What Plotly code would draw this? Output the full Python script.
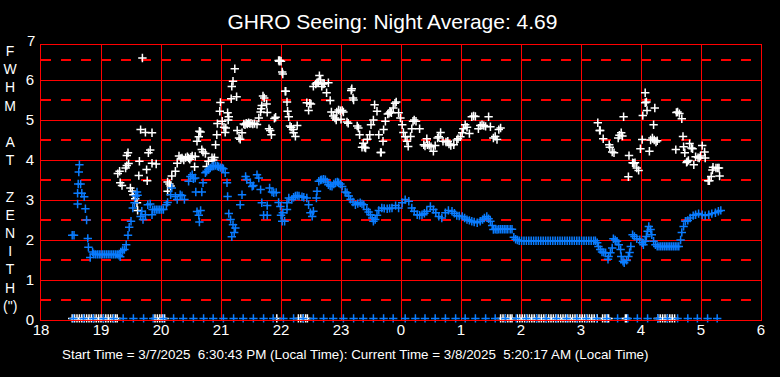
import plotly.graph_objects as go

# ---------------- data (hours after midnight of start day; 24+ = next morning) ----------------
blue_hours = [
    18.52, 18.55, 18.61, 18.61, 18.62, 18.63, 18.64, 18.66, 18.68, 18.72, 18.74, 18.76, 18.78, 18.79,
    18.82, 18.86, 18.88, 18.91, 18.94, 18.97, 19.00, 19.03, 19.06, 19.09, 19.12, 19.15, 19.18, 19.21,
    19.24, 19.27, 19.30, 19.32, 19.33, 19.36, 19.39, 19.42, 19.45, 19.47, 19.50, 19.53, 19.56, 19.58,
    19.60, 19.61, 19.66, 19.68, 19.70, 19.74, 19.78, 19.82, 19.85, 19.86, 19.89, 19.92, 19.95, 19.98,
    20.01, 20.04, 20.09, 20.11, 20.16, 20.18, 20.24, 20.27, 20.32, 20.35, 20.39, 20.46, 20.49, 20.52,
    20.54, 20.57, 20.58, 20.60, 20.63, 20.64, 20.66, 20.68, 20.70, 20.74, 20.76, 20.79, 20.82, 20.85,
    20.88, 20.91, 20.94, 20.96, 20.99, 21.02, 21.04, 21.07, 21.10, 21.11, 21.13, 21.16, 21.18, 21.20,
    21.22, 21.24, 21.32, 21.35, 21.41, 21.43, 21.49, 21.52, 21.54, 21.60, 21.63, 21.66, 21.68, 21.71,
    21.77, 21.77, 21.81, 21.85, 21.88, 21.92, 21.96, 21.99, 22.00, 22.02, 22.03, 22.06, 22.10, 22.10,
    22.13, 22.18, 22.21, 22.24, 22.27, 22.30, 22.35, 22.38, 22.43, 22.46, 22.49, 22.52, 22.54, 22.59,
    22.60, 22.63, 22.66, 22.68, 22.71, 22.74, 22.77, 22.79, 22.82, 22.85, 22.88, 22.91, 22.94, 22.96,
    22.99, 23.02, 23.07, 23.10, 23.13, 23.16, 23.20, 23.24, 23.28, 23.32, 23.35, 23.38, 23.43, 23.46,
    23.49, 23.52, 23.54, 23.57, 23.60, 23.63, 23.68, 23.72, 23.77, 23.81, 23.85, 23.91, 23.96, 24.02,
    24.07, 24.13, 24.18, 24.22, 24.27, 24.31, 24.35, 24.39, 24.43, 24.49, 24.54, 24.58, 24.63, 24.68,
    24.74, 24.79, 24.85, 24.89, 24.93, 24.97, 25.02, 25.06, 25.10, 25.14, 25.18, 25.22, 25.27, 25.32,
    25.36, 25.39, 25.43, 25.46, 25.49, 25.52, 25.54, 25.57, 25.60, 25.63, 25.66, 25.69, 25.72, 25.75,
    25.78, 25.82, 25.85, 25.88, 25.91, 25.94, 25.97, 26.01, 26.05, 26.09, 26.13, 26.17, 26.21, 26.25,
    26.29, 26.33, 26.37, 26.41, 26.45, 26.49, 26.53, 26.57, 26.61, 26.65, 26.69, 26.73, 26.77, 26.81,
    26.85, 26.89, 26.93, 26.97, 27.01, 27.05, 27.09, 27.13, 27.17, 27.21, 27.24, 27.27, 27.29, 27.32,
    27.35, 27.38, 27.41, 27.45, 27.46, 27.49, 27.52, 27.54, 27.57, 27.60, 27.63, 27.66, 27.67, 27.70,
    27.72, 27.76, 27.79, 27.81, 27.83, 27.86, 27.89, 27.93, 27.98, 28.02, 28.04, 28.07, 28.09, 28.11,
    28.13, 28.16, 28.18, 28.21, 28.24, 28.27, 28.30, 28.33, 28.36, 28.39, 28.42, 28.45, 28.48, 28.51,
    28.54, 28.57, 28.60, 28.63, 28.66, 28.68, 28.71, 28.74, 28.78, 28.82, 28.87, 28.91, 28.96, 29.02,
    29.07, 29.13, 29.18, 29.24, 29.29, 29.33,
]
blue_fwhm = [
    2.12, 2.12, 2.90, 3.17, 3.40, 3.70, 3.88, 3.40, 3.17, 3.08, 2.78, 2.50, 2.04, 1.82,
    1.56, 1.70, 1.65, 1.64, 1.64, 1.64, 1.64, 1.64, 1.64, 1.64, 1.64, 1.64, 1.64, 1.64,
    1.64, 1.64, 1.62, 1.58, 1.70, 1.74, 1.76, 1.88, 2.12, 2.32, 2.47, 2.80, 2.93, 3.10,
    3.20, 3.12, 2.59, 2.72, 2.51, 2.63, 2.88, 2.90, 2.63, 2.76, 2.76, 2.76, 2.76, 2.76,
    2.76, 2.76, 2.88, 2.94, 3.13, 3.30, 3.09, 3.01, 3.13, 3.11, 3.01, 3.47, 3.59, 3.63,
    3.53, 3.55, 3.20, 2.71, 2.62, 2.45, 2.74, 3.20, 3.43, 3.68, 3.72, 3.76, 3.80, 3.84,
    3.85, 3.86, 3.85, 3.83, 3.81, 3.80, 3.78, 3.68, 3.43, 3.09, 2.66, 2.51, 2.08, 2.38,
    2.19, 2.30, 2.88, 3.13, 3.59, 3.51, 3.43, 3.34, 3.36, 3.63, 3.55, 3.26, 2.93, 2.62,
    2.86, 2.62, 3.30, 3.20, 3.18, 3.19, 2.94, 2.84, 2.62, 2.47, 2.68, 2.47, 2.76, 2.93,
    3.05, 3.01, 3.07, 3.10, 3.11, 3.10, 3.08, 3.07, 3.05, 2.88, 2.68, 2.59, 2.72, 3.05,
    3.22, 3.47, 3.50, 3.51, 3.52, 3.51, 3.45, 3.38, 3.35, 3.34, 3.40, 3.44, 3.45, 3.43,
    3.40, 3.34, 3.20, 3.18, 3.10, 3.02, 2.95, 2.88, 2.91, 2.93, 2.90, 2.88, 2.76, 2.70,
    2.63, 2.55, 2.47, 2.51, 2.62, 2.74, 2.80, 2.79, 2.78, 2.79, 2.80, 2.86, 2.80, 2.93,
    3.01, 2.97, 2.80, 2.72, 2.63, 2.62, 2.63, 2.67, 2.72, 2.84, 2.76, 2.68, 2.59, 2.55,
    2.68, 2.74, 2.72, 2.67, 2.61, 2.60, 2.59, 2.55, 2.51, 2.49, 2.47, 2.45, 2.43, 2.47,
    2.51, 2.55, 2.59, 2.53, 2.47, 2.36, 2.26, 2.27, 2.26, 2.27, 2.27, 2.27, 2.27, 2.27,
    2.27, 2.27, 2.27, 2.07, 2.02, 2.00, 1.98, 1.98, 1.98, 1.98, 1.98, 1.98, 1.98, 1.98,
    1.98, 1.98, 1.98, 1.98, 1.98, 1.98, 1.98, 1.98, 1.98, 1.98, 1.98, 1.98, 1.98, 1.98,
    1.98, 1.98, 1.98, 1.98, 1.98, 1.98, 1.98, 1.98, 1.98, 1.98, 1.98, 1.93, 1.84, 1.76,
    1.70, 1.69, 1.68, 1.52, 1.59, 1.68, 1.80, 2.03, 2.00, 1.97, 1.88, 1.76, 1.59, 1.47,
    1.43, 1.49, 1.59, 1.69, 1.84, 2.13, 2.09, 2.03, 2.01, 1.93, 1.88, 1.97, 2.09, 2.22,
    2.34, 2.26, 2.13, 1.97, 1.88, 1.84, 1.84, 1.84, 1.84, 1.84, 1.84, 1.84, 1.84, 1.84,
    1.84, 1.84, 1.84, 1.84, 2.00, 2.19, 2.34, 2.47, 2.49, 2.55, 2.61, 2.63, 2.66, 2.63,
    2.61, 2.63, 2.66, 2.68, 2.72, 2.74,
]

white_hours = [
    19.28, 19.31, 19.32, 19.35, 19.41, 19.43, 19.43, 19.45, 19.46, 19.49, 19.52, 19.54, 19.57, 19.60,
    19.61, 19.63, 19.64, 19.66, 19.69, 19.74, 19.76, 19.77, 19.79, 19.82, 19.85, 19.85, 19.92, 20.11,
    20.11, 20.14, 20.16, 20.18, 20.24, 20.27, 20.30, 20.33, 20.35, 20.38, 20.41, 20.44, 20.46, 20.48,
    20.50, 20.52, 20.56, 20.57, 20.60, 20.63, 20.64, 20.66, 20.68, 20.70, 20.74, 20.76, 20.79, 20.85,
    20.87, 20.89, 20.91, 20.93, 20.94, 20.98, 20.99, 21.02, 21.05, 21.07, 21.08, 21.11, 21.12, 21.13,
    21.17, 21.18, 21.20, 21.23, 21.26, 21.27, 21.30, 21.32, 21.35, 21.38, 21.40, 21.42, 21.44, 21.46,
    21.48, 21.50, 21.53, 21.56, 21.60, 21.63, 21.66, 21.67, 21.68, 21.70, 21.72, 21.76, 21.77, 21.80,
    21.82, 21.84, 21.89, 21.91, 21.96, 21.97, 21.98, 22.00, 22.02, 22.03, 22.07, 22.08, 22.10, 22.11,
    22.13, 22.15, 22.17, 22.20, 22.21, 22.24, 22.27, 22.43, 22.46, 22.48, 22.50, 22.54, 22.58, 22.60,
    22.62, 22.64, 22.66, 22.68, 22.70, 22.72, 22.76, 22.79, 22.82, 22.84, 22.87, 22.90, 22.92, 22.93,
    22.96, 22.99, 23.00, 23.02, 23.04, 23.10, 23.12, 23.17, 23.18, 23.20, 23.21, 23.27, 23.29, 23.31,
    23.35, 23.37, 23.39, 23.41, 23.44, 23.48, 23.50, 23.54, 23.56, 23.60, 23.63, 23.66, 23.67, 23.70,
    23.71, 23.74, 23.78, 23.80, 23.82, 23.84, 23.87, 23.90, 23.92, 23.96, 23.99, 24.02, 24.04, 24.07,
    24.10, 24.12, 24.16, 24.18, 24.20, 24.22, 24.25, 24.31, 24.38, 24.40, 24.43, 24.44, 24.47, 24.50,
    24.54, 24.57, 24.61, 24.63, 24.66, 24.70, 24.75, 24.78, 24.80, 24.83, 24.88, 24.93, 24.95, 24.99,
    25.02, 25.04, 25.07, 25.10, 25.14, 25.18, 25.21, 25.24, 25.29, 25.32, 25.35, 25.38, 25.41, 25.46,
    25.49, 25.54, 25.57, 25.60, 25.63, 25.66, 25.87, 25.89, 27.28, 27.31, 27.32, 27.37, 27.47, 27.48,
    27.52, 27.55, 27.62, 27.64, 27.67, 27.69, 27.71, 27.79, 27.80, 27.86, 27.88, 27.90, 27.93, 27.96,
    27.99, 28.02, 28.03, 28.07, 28.07, 28.09, 28.10, 28.14, 28.16, 28.19, 28.21, 28.22, 28.23, 28.25,
    28.27, 28.58, 28.59, 28.61, 28.64, 28.68, 28.70, 28.71, 28.73, 28.76, 28.77, 28.79, 28.81, 28.84,
    28.86, 28.88, 28.91, 28.95, 28.97, 28.99, 29.02, 29.06, 29.07, 29.12, 29.14, 29.17, 29.19, 29.20,
    29.25, 29.28, 29.30, 29.31,
]
white_fwhm = [
    3.66, 3.72, 3.43, 3.36, 3.80, 3.86, 4.11, 4.18, 3.91, 3.30, 3.22, 3.13, 3.03, 2.93,
    2.74, 3.61, 3.97, 4.76, 6.55, 4.69, 3.76, 3.48, 4.18, 4.25, 4.68, 3.92, 3.90, 3.45,
    3.22, 3.40, 3.35, 3.60, 3.72, 3.92, 4.10, 4.04, 4.05, 4.00, 4.06, 4.08, 4.05, 4.02,
    4.07, 4.10, 3.83, 4.09, 4.47, 4.58, 4.72, 4.70, 4.26, 4.20, 4.16, 3.84, 3.97, 4.06,
    4.00, 4.06, 4.38, 4.63, 4.91, 5.22, 5.44, 4.97, 4.82, 4.69, 4.80, 5.18, 5.00, 5.08,
    5.53, 5.84, 5.97, 6.28, 5.58, 4.74, 4.55, 4.52, 4.68, 4.90, 4.88, 4.92, 4.90, 4.93,
    4.91, 4.92, 4.90, 4.91, 4.89, 5.05, 5.20, 5.28, 5.36, 5.60, 5.55, 5.40, 5.19, 4.78,
    4.74, 4.63, 5.04, 5.07, 6.49, 6.47, 6.49, 6.47, 6.20, 6.15, 5.72, 5.72, 5.45, 5.22,
    5.08, 4.85, 4.82, 4.76, 4.68, 4.59, 4.86, 5.43, 5.24, 5.42, 5.40, 5.84, 5.90, 5.93,
    5.95, 6.11, 6.00, 5.84, 5.90, 5.91, 5.68, 5.93, 5.49, 5.20, 5.10, 5.05, 5.00, 5.20,
    5.25, 5.23, 5.02, 5.24, 5.20, 4.95, 4.92, 5.74, 5.78, 5.55, 5.50, 4.85, 4.80, 4.63,
    4.32, 4.42, 4.32, 4.30, 4.52, 4.63, 4.88, 5.00, 5.38, 5.22, 4.63, 4.19, 4.19, 4.47,
    4.76, 4.97, 5.15, 5.17, 5.20, 5.18, 5.30, 5.42, 5.45, 5.18, 5.05, 4.88, 4.69, 4.58,
    4.47, 4.34, 4.59, 4.78, 4.97, 5.00, 4.97, 4.78, 4.38, 4.35, 4.53, 4.38, 4.37, 4.33,
    4.22, 4.36, 4.55, 4.58, 4.69, 4.47, 4.45, 4.47, 4.40, 4.36, 4.38, 4.50, 4.53, 4.58,
    4.68, 4.78, 4.88, 4.82, 4.66, 5.08, 5.10, 5.09, 4.78, 4.86, 4.88, 4.86, 4.84, 5.08,
    4.83, 4.55, 4.59, 4.51, 4.76, 4.80, 6.96, 6.95, 4.93, 4.74, 4.74, 4.53, 4.38, 4.32,
    4.20, 4.18, 4.55, 4.62, 4.68, 4.60, 5.08, 3.58, 4.11, 3.93, 3.92, 3.93, 3.80, 3.74,
    4.28, 4.51, 5.11, 5.43, 5.68, 5.45, 5.24, 4.22, 4.50, 4.55, 4.88, 4.50, 5.30, 4.45,
    4.48, 4.26, 5.19, 5.20, 5.16, 5.03, 4.59, 4.33, 4.18, 3.94, 3.96, 3.99, 4.41, 4.30,
    4.28, 3.88, 4.08, 4.06, 4.05, 4.10, 4.36, 4.20, 4.05, 3.48, 3.48, 3.59, 3.75, 3.82,
    3.80, 3.80, 3.80, 3.60,
]

# samples with no valid measurement, drawn on the zero row
white_zero_hours = [
    18.52, 18.56, 18.60, 18.64, 18.68, 18.72, 18.76, 18.80, 18.84, 18.88, 18.92, 18.96, 19.00, 19.04,
    19.08, 19.12, 19.16, 19.20, 19.24, 19.27, 19.90, 19.94, 19.98, 20.02, 20.06, 21.93, 22.29, 22.33,
    22.37, 22.41, 22.44, 25.66, 25.70, 25.74, 25.78, 25.82, 25.85, 25.94, 25.98, 26.02, 26.06, 26.10,
    26.14, 26.18, 26.22, 26.26, 26.30, 26.34, 26.38, 26.42, 26.46, 26.50, 26.54, 26.58, 26.62, 26.66,
    26.70, 26.74, 26.78, 26.82, 26.86, 26.90, 26.94, 26.98, 27.02, 27.06, 27.10, 27.14, 27.18, 27.22,
    27.27, 27.36, 27.40, 27.44, 27.46, 27.74, 27.76, 28.28, 28.32, 28.36, 28.40, 28.44, 28.48, 28.52,
    28.56,
]
blue_zero_hours = [
    18.54, 18.71, 18.87, 19.04, 19.21, 19.37, 19.54, 19.71, 19.87, 20.04, 20.21, 20.37, 20.54, 20.71,
    20.87, 21.04, 21.21, 21.37, 21.54, 21.71, 21.87, 22.04, 22.21, 22.37, 22.54, 22.71, 22.87, 23.04,
    23.21, 23.37, 23.54, 23.71, 23.87, 24.07, 24.24, 24.40, 24.57, 24.74, 24.91, 25.07, 25.24, 25.41,
    25.57, 25.74, 25.92, 26.09, 26.26, 26.42, 26.59, 26.76, 26.93, 27.09, 27.26, 27.43, 27.61, 27.78,
    27.94, 28.11, 28.28, 28.44, 28.61, 28.78, 28.94, 29.11, 29.27,
]
zero_row_level = 0.04

x_tick_vals = list(range(18, 31))
x_tick_text = ["18", "19", "20", "21", "22", "23", "0", "1", "2", "3", "4", "5", "6"]
y_tick_vals = [0, 1, 2, 3, 4, 5, 6]
y_top_label = 7
y_range = [0, 6.875]
y_half_lines = [0.5, 1.5, 2.5, 3.5, 4.5, 5.5, 6.5]

title_text = "GHRO Seeing: Night Average: 4.69"
footer_text = ("Start Time = 3/7/2025&nbsp; 6:30:43 PM (Local Time): Current Time = "
               "3/8/2025&nbsp; 5:20:17 AM (Local Time)")
y_title_letters = ["F", "W", "H", "M", "", "A", "T", "", "Z", "E", "N", "I", "T", "H", "(\")"]

# ---------------- figure ----------------
FIG_W, FIG_H = 780, 377
FONT = "Liberation Sans, Arial, sans-serif"
WHITE = "#ffffff"
BLUE = "#0a7cff"
RED = "#ff0000"

def cross(color):
    return dict(symbol="cross-thin", size=6, line=dict(width=1.5, color=color), color=color)

fig = go.Figure()
fig.add_trace(go.Scatter(x=white_zero_hours, y=[zero_row_level] * len(white_zero_hours),
                         mode="markers", marker=cross(WHITE), cliponaxis=False, hoverinfo="skip"))
fig.add_trace(go.Scatter(x=white_hours, y=white_fwhm, mode="markers",
                         marker=cross(WHITE), cliponaxis=False))
fig.add_trace(go.Scatter(x=blue_hours, y=blue_fwhm, mode="markers",
                         marker=cross(BLUE), cliponaxis=False))
fig.add_trace(go.Scatter(x=blue_zero_hours, y=[zero_row_level] * len(blue_zero_hours),
                         mode="markers", marker=cross(BLUE), cliponaxis=False, hoverinfo="skip"))

for yv in y_half_lines:
    fig.add_shape(type="line", xref="x", yref="y", x0=x_tick_vals[0], x1=x_tick_vals[-1],
                  y0=yv, y1=yv, line=dict(color=RED, width=2, dash="10px,10px"), layer="below")

# top tick label sits just above the clipped top edge of the plot
fig.add_annotation(text=str(y_top_label), xref="paper", yref="paper", x=-0.006,
                   y=y_top_label / y_range[1], xanchor="right", yanchor="middle", showarrow=False,
                   font=dict(family=FONT, size=15, color=WHITE))
fig.add_annotation(text="<br>".join(y_title_letters), xref="paper", yref="paper",
                   x=-0.0417, y=0.513, xanchor="center", yanchor="middle", showarrow=False,
                   font=dict(family=FONT, size=14, color=WHITE))
fig.add_annotation(text=footer_text, xref="paper", yref="paper", x=0.026, y=-0.125,
                   xanchor="left", yanchor="middle", showarrow=False,
                   font=dict(family=FONT, size=13.4, color=WHITE))

fig.update_layout(
    width=FIG_W, height=FIG_H,
    margin=dict(l=41, r=19, t=45, b=57),
    paper_bgcolor="black", plot_bgcolor="black",
    showlegend=False,
    title=dict(text=title_text, x=392.5 / FIG_W, xanchor="center", xref="container",
               y=1 - 22 / FIG_H, yanchor="middle", yref="container",
               font=dict(family=FONT, size=21, color=WHITE)),
    xaxis=dict(range=[18, 30], tickvals=x_tick_vals, ticktext=x_tick_text,
               showgrid=True, gridcolor=RED, gridwidth=1, zeroline=False,
               showline=True, linecolor=RED, linewidth=1, mirror=True,
               ticks="", ticklabelstandoff=-4,
               tickfont=dict(family=FONT, size=15, color=WHITE), fixedrange=True),
    yaxis=dict(range=y_range, tickvals=y_tick_vals,
               showgrid=True, gridcolor=RED, gridwidth=1, zeroline=False,
               showline=True, linecolor=RED, linewidth=1, mirror=True,
               ticks="outside", ticklen=3, tickcolor="rgba(0,0,0,0)",
               tickfont=dict(family=FONT, size=15, color=WHITE), fixedrange=True),
)

# remove the browser's default 8px page margin so the figure fills the window exactly
fig.write_html("out.html", config={"displayModeBar": False},
               post_script="document.body.style.margin='0px';document.body.style.background='black';")
